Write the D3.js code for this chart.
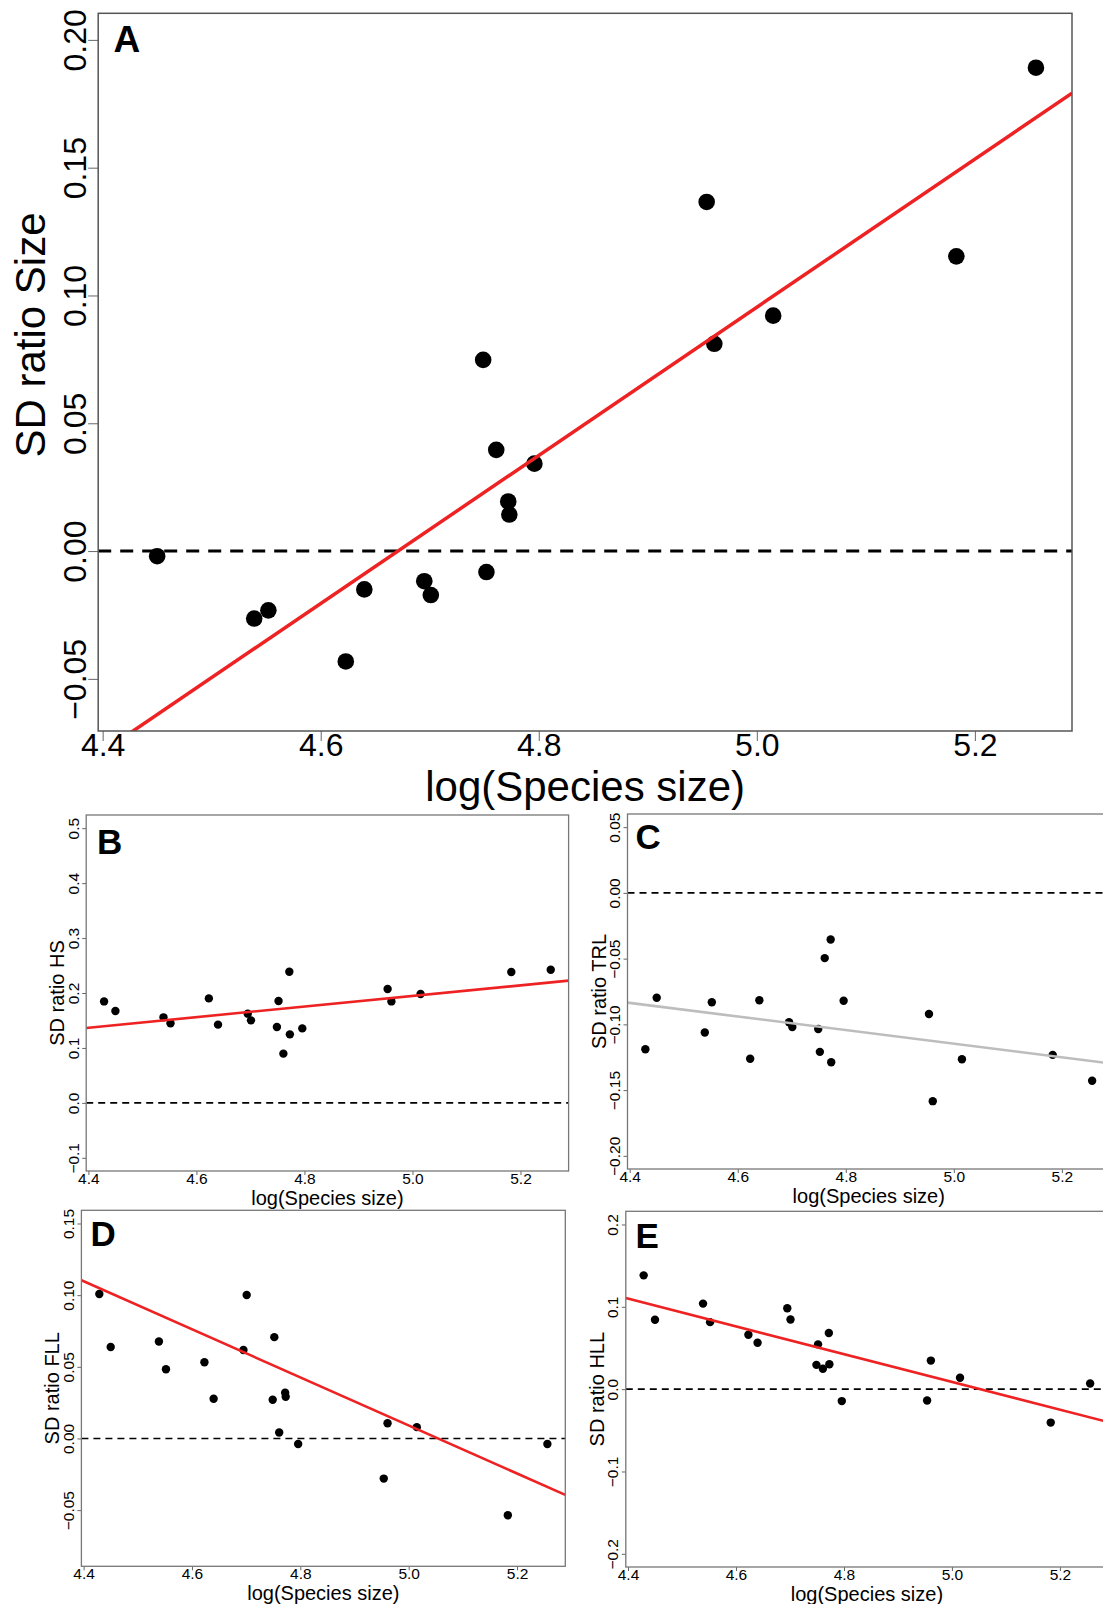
<!DOCTYPE html>
<html>
<head>
<meta charset="utf-8">
<script src="https://cdn.jsdelivr.net/npm/d3@7"></script>
<style>
  body { margin: 0; background: #fff; }
  svg { display: block; }
  text { font-family: "Liberation Sans", Arial, Helvetica, sans-serif; fill: #000; }
</style>
</head>
<body>
<svg id="fig" width="1103" height="1604"></svg>
<script>
// log(Species size) for each species, shared by every panel
const logSize = [4.429, 4.450, 4.539, 4.552, 4.623, 4.640, 4.695, 4.701, 4.749, 4.752,
                 4.761, 4.772, 4.773, 4.796, 4.954, 4.961, 5.015, 5.183, 5.256];

// SD ratios per trait (null = outside the plotted range)
const sdSize = [null, -0.0020, -0.0264, -0.0232, -0.0432, -0.0150, -0.0118, -0.0172, 0.0748, -0.0082,
                0.0396, 0.0194, 0.0143, 0.0342, 0.1366, 0.0811, 0.0921, 0.1153, 0.1891];
const sdHS   = [0.1847, 0.1672, 0.1557, 0.1448, 0.1902, 0.1424, 0.1624, 0.1502, 0.1382, 0.1855,
                0.0896, 0.2387, 0.1247, 0.1356, 0.2073, 0.1847, 0.1982, 0.2382, 0.2424];
const sdTRL  = [-0.1189, -0.0797, -0.1062, -0.0832, -0.1262, -0.0817, -0.0984, -0.1020, -0.1035, -0.1209,
                -0.0496, -0.0354, -0.1288, -0.0820, -0.0921, -0.1584, -0.1265, -0.1232, -0.1429];
const sdFLL  = [0.1008, 0.0638, 0.0677, 0.0483, 0.0532, 0.0277, 0.0617, 0.1001, 0.0270, 0.0707,
                0.0042, 0.0319, 0.0291, -0.0039, -0.0280, 0.0106, 0.0079, -0.0536, -0.0039];
const sdHLL  = [0.1382, 0.0842, 0.1039, 0.0814, 0.0661, 0.0564, 0.0983, 0.0846, 0.0295, 0.0544,
                0.0247, 0.0682, 0.0302, -0.0145, -0.0137, 0.0347, 0.0138, -0.0406, 0.0069];

// fitted regression lines: [intercept, slope]
const fitSize = [-1.3536, 0.2898];
const fitHS   = [-0.2874, 0.0964];
const fitTRL  = [0.1438, -0.0517];
const fitFLL  = [0.8476, -0.1677];
const fitHLL  = [0.8513, -0.1685];

// axis limits and tick values
const xTicks = [4.4, 4.6, 4.8, 5.0, 5.2];
const ylimSize = [-0.06, 0.20], yTicksSize = [-0.05, 0, 0.05, 0.10, 0.15, 0.20];
const ylimHS   = [-0.1, 0.5],   yTicksHS   = [-0.1, 0, 0.1, 0.2, 0.3, 0.4, 0.5];
const ylimTRL  = [-0.2, 0.05],  yTicksTRL  = [-0.20, -0.15, -0.10, -0.05, 0, 0.05];
const ylimFLL  = [-0.08, 0.15], yTicksFLL  = [-0.05, 0, 0.05, 0.10, 0.15];
const ylimHLL  = [-0.2, 0.2],   yTicksHLL  = [-0.2, -0.1, 0, 0.1, 0.2];

const panelLetters = ["A", "B", "C", "D", "E"];
const yTitles = ["SD ratio Size", "SD ratio HS", "SD ratio TRL", "SD ratio FLL", "SD ratio HLL"];
const xTitle = "log(Species size)";

// pad limits by 4% on each side, as base-graphics plots do
const pad = ([lo, hi]) => { const d = (hi - lo) * 0.04; return [lo - d, hi + d]; };
const xDomain = pad(d3.extent(logSize));

const big = { r: 8.3, tick: 10, tickFont: 32, titleFont: 42, letterFont: 37,
              xTickBase: 25, xTitleBase: 70, yTickBase: -12.5, yTitleBase: -53.7,
              lineW: 3.5, dash: "13,9", dashW: 3, frame: "#555", frameW: 1.5 };
const small = { r: 4.2, tick: 4, tickFont: 15.5, titleFont: 20, letterFont: 35,
                xTickBase: 12.5, xTitleBase: 34, yTickBase: -7.5, yTitleBase: -22,
                lineW: 2.6, dash: "7,5", dashW: 1.6, frame: "#777", frameW: 1.3 };

const panels = [
  { box: [98.2, 13.3, 1072, 731], st: big, y: sdSize, ylim: ylimSize, ticks: yTicksSize, fmt: ".2f",
    fit: fitSize, lineColor: "#ee2222", letterPos: [113.6, 51.7], yTitleY: 335 },
  { box: [86.2, 815, 568.6, 1171], st: small, y: sdHS, ylim: ylimHS, ticks: yTicksHS, fmt: ".1f",
    fit: fitHS, lineColor: "#ee2222", letterPos: [97, 854] },
  { box: [627.5, 814, 1110, 1169], st: small, y: sdTRL, ylim: ylimTRL, ticks: yTicksTRL, fmt: ".2f",
    fit: fitTRL, lineColor: "#bdbdbd", letterPos: [635.5, 849] },
  { box: [81.4, 1210.3, 565.3, 1566.3], st: small, y: sdFLL, ylim: ylimFLL, ticks: yTicksFLL, fmt: ".2f",
    fit: fitFLL, lineColor: "#ee2222", letterPos: [90.6, 1246] },
  { box: [625.8, 1211.3, 1108, 1567], st: small, y: sdHLL, ylim: ylimHLL, ticks: yTicksHLL, fmt: ".1f",
    fit: fitHLL, lineColor: "#ee2222", letterPos: [635.5, 1248] }
];

const svg = d3.select("#fig");

panels.forEach((p, i) => {
  const [x0, y0, x1, y1] = p.box;
  const st = p.st;
  const x = d3.scaleLinear().domain(xDomain).range([x0, x1]);
  const y = d3.scaleLinear().domain(pad(p.ylim)).range([y1, y0]);
  const g = svg.append("g");

  const clipId = "clip" + i;
  svg.append("clipPath").attr("id", clipId)
    .append("rect").attr("x", x0).attr("y", y0).attr("width", x1 - x0).attr("height", y1 - y0);

  // x axis
  const xa = g.append("g").attr("transform", `translate(0,${y1})`)
    .call(d3.axisBottom(x).tickValues(xTicks).tickFormat(d3.format(".1f"))
      .tickSizeInner(st.tick).tickSizeOuter(0));
  xa.select(".domain").remove();
  xa.selectAll("line").attr("stroke", "#666").attr("stroke-width", 1);
  xa.selectAll("text").attr("y", st.xTickBase).attr("dy", null)
    .style("font-size", st.tickFont + "px").attr("fill", "#000");

  // y axis, tick labels parallel to the axis
  const ya = g.append("g").attr("transform", `translate(${x0},0)`)
    .call(d3.axisLeft(y).tickValues(p.ticks).tickFormat(d3.format(p.fmt))
      .tickSizeInner(st.tick).tickSizeOuter(0));
  ya.select(".domain").remove();
  ya.selectAll("line").attr("stroke", "#666").attr("stroke-width", 1);
  ya.selectAll("text").attr("transform", "rotate(-90)")
    .attr("x", 0).attr("y", st.yTickBase).attr("dy", null)
    .attr("text-anchor", "middle")
    .style("font-size", st.tickFont + "px").attr("fill", "#000");

  const plot = g.append("g").attr("clip-path", `url(#${clipId})`);

  // zero reference line
  plot.append("line")
    .attr("x1", x0).attr("x2", x1).attr("y1", y(0)).attr("y2", y(0))
    .attr("stroke", "#000").attr("stroke-width", st.dashW)
    .attr("stroke-dasharray", st.dash);

  // points
  const pts = logSize.map((v, k) => [v, p.y[k]]).filter(d => d[1] !== null);
  plot.selectAll("circle").data(pts).join("circle")
    .attr("cx", d => x(d[0])).attr("cy", d => y(d[1])).attr("r", st.r)
    .attr("fill", "#000");

  // regression line across the plotting region
  const [a, b] = p.fit;
  plot.append("line")
    .attr("x1", x(xDomain[0])).attr("y1", y(a + b * xDomain[0]))
    .attr("x2", x(xDomain[1])).attr("y2", y(a + b * xDomain[1]))
    .attr("stroke", p.lineColor).attr("stroke-width", st.lineW);

  // frame
  g.append("rect").attr("x", x0).attr("y", y0).attr("width", x1 - x0).attr("height", y1 - y0)
    .attr("fill", "none").attr("stroke", st.frame).attr("stroke-width", st.frameW);

  // panel letter
  g.append("text").attr("x", p.letterPos[0]).attr("y", p.letterPos[1])
    .style("font-size", st.letterFont + "px").style("font-weight", "bold")
    .text(panelLetters[i]);

  // axis titles
  g.append("text").attr("x", (x0 + x1) / 2).attr("y", y1 + st.xTitleBase)
    .attr("text-anchor", "middle").style("font-size", st.titleFont + "px")
    .text(xTitle);
  const ty = p.yTitleY !== undefined ? p.yTitleY : (y0 + y1) / 2;
  g.append("text")
    .attr("transform", `translate(${x0 + st.yTitleBase},${ty}) rotate(-90)`)
    .attr("text-anchor", "middle").style("font-size", st.titleFont + "px")
    .text(yTitles[i]);
});
</script>
</body>
</html>
